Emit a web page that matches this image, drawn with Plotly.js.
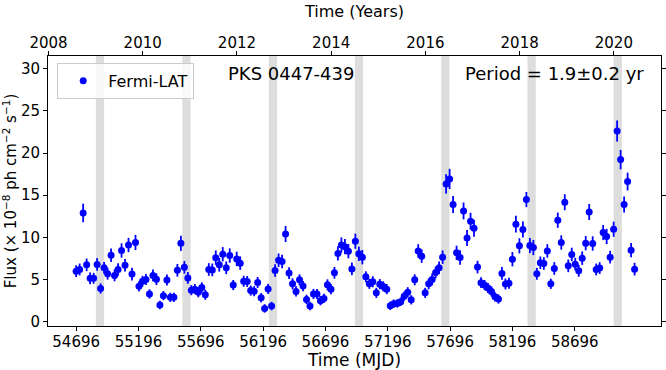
<!DOCTYPE html>
<html>
<head>
<meta charset="utf-8">
<script src="https://cdn.plot.ly/plotly-3.0.1.min.js"></script>
<style>
  body { margin: 0; padding: 0; background: #fff; }
  #lcPlot { width: 666px; height: 370px; }
</style>
</head>
<body>
<div id="lcPlot"></div>
<script>
// 28-day binned Fermi-LAT light curve of PKS 0447-439
var mjd = [
  54696, 54724, 54752, 54780, 54808, 54836, 54864, 54892, 54920, 54948,
  54976, 55004, 55032, 55060, 55088, 55116, 55144, 55172, 55200, 55228,
  55256, 55284, 55312, 55340, 55368, 55396, 55424, 55452, 55480, 55508,
  55536, 55564, 55592, 55620, 55648, 55676, 55704, 55732, 55760, 55788,
  55816, 55844, 55872, 55900, 55928, 55956, 55984, 56012, 56040, 56068,
  56096, 56124, 56152, 56180, 56208, 56236, 56264, 56292, 56320, 56348,
  56376, 56404, 56432, 56460, 56488, 56516, 56544, 56572, 56600, 56628,
  56656, 56684, 56712, 56740, 56768, 56796, 56824, 56852, 56880, 56908,
  56936, 56964, 56992, 57020, 57048, 57076, 57104, 57132, 57160, 57188,
  57216, 57244, 57272, 57300, 57328, 57356, 57384, 57412, 57440, 57468,
  57496, 57524, 57552, 57580, 57608, 57636, 57664, 57692, 57720, 57748,
  57776, 57804, 57832, 57860, 57888, 57916, 57944, 57972, 58000, 58028,
  58056, 58084, 58112, 58140, 58168, 58196, 58224, 58252, 58280, 58308,
  58336, 58364, 58392, 58420, 58448, 58476, 58504, 58532, 58560, 58588,
  58616, 58644, 58672, 58700, 58728, 58756, 58784, 58812, 58840, 58868,
  58896, 58924, 58952, 58980, 59008, 59036, 59064, 59092, 59120, 59148,
  59176
];

// flux in units of 1e-8 ph cm^-2 s^-1
var flux = [
  6.0, 6.2, 12.9, 6.75, 5.15, 5.15, 6.8, 3.95, 6.4, 5.7,
  7.9, 5.5, 6.2, 8.45, 6.7, 9.1, 5.65, 9.4, 4.2, 4.8,
  5.0, 3.3, 5.5, 5.05, 2.0, 3.1, 4.95, 2.9, 2.9, 6.1,
  9.3, 6.45, 5.2, 3.75, 3.87, 3.5, 4.07, 3.2, 6.2, 6.15,
  7.6, 6.75, 8.0, 6.4, 7.85, 4.35, 7.45, 6.95, 4.8, 4.78,
  3.7, 3.63, 4.66, 2.85, 1.58, 3.9, 1.86, 6.08, 7.3, 7.15,
  10.4, 5.77, 4.5, 3.6, 4.97, 4.23, 2.65, 1.86, 3.3, 3.3,
  2.5, 2.77, 4.38, 3.87, 5.8, 8.1, 9.1, 8.9, 8.37, 6.27,
  9.55, 8.05, 7.66, 5.33, 4.5, 4.74, 3.43, 4.46, 4.19, 3.87,
  1.9, 2.14, 2.18, 2.38, 3.04, 3.5, 2.6, 4.97, 8.4, 7.78,
  3.43, 4.5, 5.02, 5.85, 6.4, 7.66, 16.34, 16.93, 13.9, 8.17,
  7.62, 13.14, 9.94, 11.92, 11.09, 6.48, 4.64, 4.35, 4.0, 3.6,
  2.96, 2.7, 5.73, 4.48, 4.56, 7.42, 11.57, 9.0, 10.94, 14.49,
  9.04, 8.8, 5.69, 6.99, 6.91, 8.4, 4.5, 6.32, 12.04, 9.4,
  14.17, 6.63, 7.98, 6.83, 6.04, 7.54, 9.32, 13.02, 9.28, 6.2,
  6.36, 10.58, 10.11, 7.66, 10.97, 22.61, 19.22, 13.9, 16.62, 8.49,
  6.24
];

var fluxErr = [
  0.7, 0.7, 1.1, 0.75, 0.7, 0.65, 0.75, 0.6, 0.7, 0.7,
  0.8, 0.7, 0.75, 0.85, 0.75, 0.85, 0.75, 0.9, 0.6, 0.65,
  0.65, 0.55, 0.7, 0.7, 0.5, 0.55, 0.65, 0.55, 0.55, 0.75,
  0.9, 0.75, 0.7, 0.6, 0.6, 0.6, 0.6, 0.6, 0.75, 0.75,
  0.85, 0.8, 0.85, 0.75, 0.85, 0.6, 0.85, 0.8, 0.65, 0.65,
  0.6, 0.6, 0.65, 0.55, 0.5, 0.6, 0.5, 0.75, 0.8, 0.8,
  0.95, 0.7, 0.65, 0.6, 0.65, 0.6, 0.55, 0.5, 0.6, 0.6,
  0.55, 0.55, 0.65, 0.6, 0.7, 0.85, 0.9, 0.9, 0.85, 0.75,
  0.9, 0.85, 0.85, 0.65, 0.6, 0.65, 0.6, 0.6, 0.6, 0.6,
  0.5, 0.5, 0.5, 0.5, 0.55, 0.6, 0.55, 0.65, 0.8, 0.8,
  0.6, 0.65, 0.7, 0.7, 0.75, 0.8, 1.15, 1.2, 1.0, 0.85,
  0.85, 1.0, 0.95, 1.0, 1.0, 0.75, 0.65, 0.6, 0.6, 0.6,
  0.55, 0.55, 0.75, 0.65, 0.65, 0.85, 1.0, 0.9, 0.95, 0.9,
  0.9, 0.9, 0.7, 0.75, 0.75, 0.8, 0.6, 0.75, 0.9, 0.85,
  0.95, 0.75, 0.8, 0.75, 0.7, 0.8, 0.85, 0.95, 0.85, 0.7,
  0.7, 0.9, 0.9, 0.75, 0.9, 1.25, 1.15, 0.95, 1.05, 0.85,
  0.75
];

// centres (MJD) of the shaded windows, ~1.9 yr apart
var bandCenters = [54887, 55581, 56275, 56965, 57658, 58350, 59041];
var bandHalfWidth = 33;

var mjdTicks = [54696, 55196, 55696, 56196, 56696, 57196, 57696, 58196, 58696];
var yearTicks = [2008, 2010, 2012, 2014, 2016, 2018, 2020];
var fluxTicks = [0, 5, 10, 15, 20, 25, 30];

var font = "DejaVu Sans, sans-serif";

var lc = {
  x: mjd,
  y: flux,
  error_y: { type: "data", array: fluxErr, color: "#0000ff", thickness: 1.8, width: 0 },
  mode: "markers",
  type: "scatter",
  name: "Fermi-LAT",
  marker: { color: "#0000ff", size: 7 }
};

// empty trace so the year axis on top gets drawn
var yearDummy = {
  x: [2010], y: [null], xaxis: "x2", yaxis: "y",
  mode: "markers", showlegend: false, hoverinfo: "skip"
};

var shapes = bandCenters.map(c => ({
  type: "rect", xref: "x", yref: "paper",
  x0: c - bandHalfWidth, x1: c + bandHalfWidth, y0: 0, y1: 1,
  fillcolor: "#dddddd", line: { width: 0 }, layer: "below"
}));

var layout = {
  width: 666,
  height: 370,
  margin: { l: 48, r: 5, t: 56, b: 44 },
  paper_bgcolor: "#fff",
  plot_bgcolor: "#fff",
  font: { family: font, color: "#000", size: 15 },
  showlegend: true,
  legend: {
    x: 0.015, y: 0.975, xanchor: "left", yanchor: "top",
    bgcolor: "rgba(255,255,255,0.8)", bordercolor: "#cccccc", borderwidth: 1,
    font: { size: 16 }, itemwidth: 40
  },
  xaxis: {
    range: [54470, 59388],
    tickvals: mjdTicks,
    ticktext: mjdTicks.map(String),
    tickangle: 0,
    ticks: "outside", ticklen: 4, tickcolor: "#000",
    ticklabelstandoff: -2,
    showline: true, linecolor: "#000", linewidth: 1, mirror: false,
    showgrid: false, zeroline: false,
    tickfont: { size: 15 },
    title: { text: "Time (MJD)", font: { size: 17 }, standoff: 3 }
  },
  xaxis2: {
    overlaying: "x", side: "top", anchor: "y",
    range: [2007.99, 2021.0],
    tickvals: yearTicks,
    ticktext: yearTicks.map(String),
    tickangle: 0,
    ticks: "outside", ticklen: 4, tickcolor: "#000",
    ticklabelstandoff: -3,
    showline: true, linecolor: "#000", linewidth: 1,
    showgrid: false, zeroline: false,
    tickfont: { size: 15 },
    title: { text: "Time (Years)", font: { size: 16 }, standoff: 12 }
  },
  yaxis: {
    range: [-0.5, 31.5],
    tickvals: fluxTicks,
    ticks: "outside", ticklen: 4, tickcolor: "#000",
    showline: true, linecolor: "#000", linewidth: 1, mirror: "ticks",
    showgrid: false, zeroline: false,
    tickfont: { size: 15 },
    title: { text: "Flux (× 10<sup>−8</sup> ph cm<sup>−2</sup> s<sup>−1</sup>)", font: { size: 15 }, standoff: 4 }
  },
  shapes: shapes,
  annotations: [
    { text: "PKS 0447-439", xref: "paper", yref: "paper", x: 0.396, y: 0.937,
      xanchor: "center", yanchor: "middle", showarrow: false, font: { size: 18 } },
    { text: "Period = 1.9±0.2 yr", xref: "paper", yref: "paper", x: 0.827, y: 0.937,
      xanchor: "center", yanchor: "middle", showarrow: false, font: { size: 18 } }
  ]
};

Plotly.newPlot("lcPlot", [lc, yearDummy], layout, { displayModeBar: false, staticPlot: true });
</script>
</body>
</html>
